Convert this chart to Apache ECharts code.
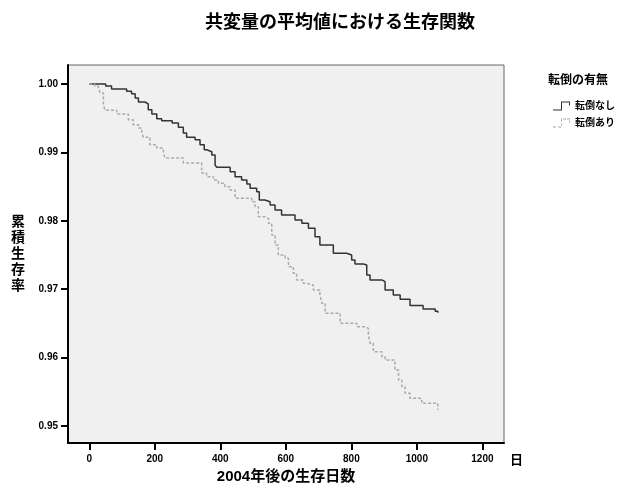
<!DOCTYPE html>
<html lang="ja">
<head>
    <meta charset="utf-8">
    <title>生存関数</title>
    <script src="https://cdn.jsdelivr.net/npm/echarts@6/dist/echarts.min.js"></script>
    <style type="text/css">
        html, body {
            margin: 0;
            padding: 0;
            background: #ffffff;
        }

        #main {
            width: 620px;
            height: 493px;
        }
    </style>
</head>
<body>
<div id="main"></div>
<script type="text/javascript">
    // 転倒なし: 生存率が下がる日とその後の値
    let noFallDays = [0, 50, 68, 114, 129, 140, 150, 170, 180, 191, 206, 221, 253, 272, 287, 297, 323, 338, 351, 358,
        374, 384, 389, 430, 445, 465, 481, 491, 511, 519, 536, 552, 567, 587, 628, 649, 669, 689, 704, 745,
        786, 801, 811, 837, 847, 857, 893, 903, 928, 949, 979, 1019, 1056, 1064];
    let noFallSurv = [1.0, 0.9997, 0.99927, 0.99893, 0.99858, 0.99795, 0.99737, 0.99708, 0.99624, 0.99561, 0.99493,
        0.99463, 0.9943, 0.99367, 0.99284, 0.99221, 0.99186, 0.99113, 0.99039, 0.9901, 0.98962, 0.98816, 0.98782,
        0.98718, 0.98645, 0.98596, 0.98538, 0.98475, 0.98425, 0.98304, 0.98279, 0.98231, 0.98158, 0.98085, 0.98012,
        0.97963, 0.9789, 0.97768, 0.97646, 0.97525, 0.975, 0.97427, 0.97368, 0.97354, 0.97208, 0.97135, 0.9711,
        0.96988, 0.96915, 0.96852, 0.96762, 0.96711, 0.96677, 0.96657];

    // 転倒あり
    let fallDays = [0, 17, 27, 33, 43, 48, 84, 119, 134, 150, 160, 165, 185, 206, 226, 231, 287, 343, 358, 379,
        394, 414, 430, 445, 496, 506, 516, 536, 547, 557, 567, 577, 598, 608, 623, 633, 653, 664, 684, 704,
        710, 720, 766, 816, 842, 852, 857, 867, 893, 903, 933, 944, 954, 964, 979, 1015, 1064];
    let fallSurv = [1.0, 0.99966, 0.99942, 0.99868, 0.99697, 0.99615, 0.99561, 0.99478, 0.99405, 0.99357, 0.99284,
        0.99221, 0.99113, 0.99064, 0.99016, 0.98918, 0.98845, 0.98699, 0.98645, 0.98596, 0.98548, 0.98499, 0.9845,
        0.98329, 0.98279, 0.98206, 0.9806, 0.98036, 0.97963, 0.97792, 0.97646, 0.975, 0.97452, 0.97329, 0.97232,
        0.97134, 0.97086, 0.97061, 0.96988, 0.96915, 0.96794, 0.96648, 0.96501, 0.96452, 0.96428, 0.9633, 0.96209,
        0.96086, 0.96013, 0.95965, 0.95818, 0.95672, 0.95574, 0.95478, 0.95405, 0.95332, 0.95234];

    let xTicks = [0, 200, 400, 600, 800, 1000, 1200];
    let yTicks = [0.95, 0.96, 0.97, 0.98, 0.99, 1.00];

    function pairs(xs, ys) {
        let out = [];
        for (let i = 0; i < xs.length; i++) {
            out.push([xs[i], ys[i]]);
        }
        return out;
    }

    let font = '"Liberation Sans", "Noto Sans CJK JP", sans-serif';
    let solidIcon = 'path://M0,8H8V0H17V1H9V9H0Z M16,0H17V4H16Z';
    let dashIcon = 'path://M0,8H3V9H0Z M5,8H8V9H5Z M8,5H9V7H8Z M8,0H9V3H8Z M10,0H13V1H10Z M14,0H17V1H14Z M16,2H17V4H16Z';

    let myChart = echarts.init(document.getElementById('main'));
    myChart.setOption({
        backgroundColor: '#ffffff',
        animation: false,
        title: {
            text: '共変量の平均値における生存関数',
            left: 200,
            top: 9,
            textStyle: {fontFamily: font, fontSize: 18, fontWeight: 'bold', color: '#000'}
        },
        legend: {
            orient: 'vertical',
            left: 548,
            top: 96,
            itemGap: 7,
            itemWidth: 17,
            itemHeight: 9,
            textStyle: {fontFamily: font, fontSize: 10, fontWeight: 'bold', color: '#000'},
            data: [
                {name: '転倒なし', icon: solidIcon, itemStyle: {color: '#333'}},
                {name: '転倒あり', icon: dashIcon, itemStyle: {color: '#aaa'}}
            ]
        },
        graphic: [
            {
                type: 'text', left: 548, top: 75,
                style: {text: '転倒の有無', font: 'bold 12px ' + font, fill: '#000'}
            },
            {
                type: 'text', left: 510, top: 454,
                style: {text: '日', font: 'bold 13px ' + font, fill: '#000'}
            }
        ],
        grid: {
            left: 68, right: 116, top: 65, bottom: 50,
            show: true,
            backgroundColor: '#f0f0f0',
            borderColor: '#666',
            borderWidth: 1
        },
        xAxis: {
            type: 'value',
            min: -65,
            max: 1266,
            name: '2004年後の生存日数',
            nameLocation: 'middle',
            nameGap: 23,
            nameTextStyle: {fontFamily: font, fontSize: 15, fontWeight: 'bold', color: '#000'},
            axisLine: {onZero: false, lineStyle: {color: '#000', width: 2}},
            axisTick: {customValues: xTicks, length: 7, lineStyle: {color: '#000', width: 2}},
            axisLabel: {
                customValues: xTicks, margin: 11, fontFamily: font, fontSize: 10, fontWeight: 'bold', color: '#000',
                formatter: function (v) { return String(v); }
            },
            splitLine: {show: false}
        },
        yAxis: {
            type: 'value',
            min: 0.94751,
            max: 1.00278,
            name: '累\n積\n生\n存\n率',
            nameLocation: 'middle',
            nameRotate: 0,
            nameGap: 43,
            nameTextStyle: {fontFamily: font, fontSize: 14, fontWeight: 'bold', color: '#000', lineHeight: 16},
            axisLine: {onZero: false, lineStyle: {color: '#000', width: 2}},
            axisTick: {customValues: yTicks, length: 7, lineStyle: {color: '#000', width: 2}},
            axisLabel: {
                customValues: yTicks, margin: 10, fontFamily: font, fontSize: 10, fontWeight: 'bold', color: '#000',
                formatter: function (v) { return v.toFixed(2); }
            },
            splitLine: {show: false}
        },
        series: [
            {
                name: '転倒なし',
                type: 'line',
                step: 'end',
                symbol: 'none',
                data: pairs(noFallDays, noFallSurv),
                lineStyle: {color: '#333', width: 1.5},
                itemStyle: {color: '#333'}
            },
            {
                name: '転倒あり',
                type: 'line',
                step: 'end',
                symbol: 'none',
                data: pairs(fallDays, fallSurv),
                lineStyle: {color: '#aaa', width: 1.5, type: [3, 2]},
                itemStyle: {color: '#aaa'}
            }
        ]
    });
</script>
</body>
</html>
